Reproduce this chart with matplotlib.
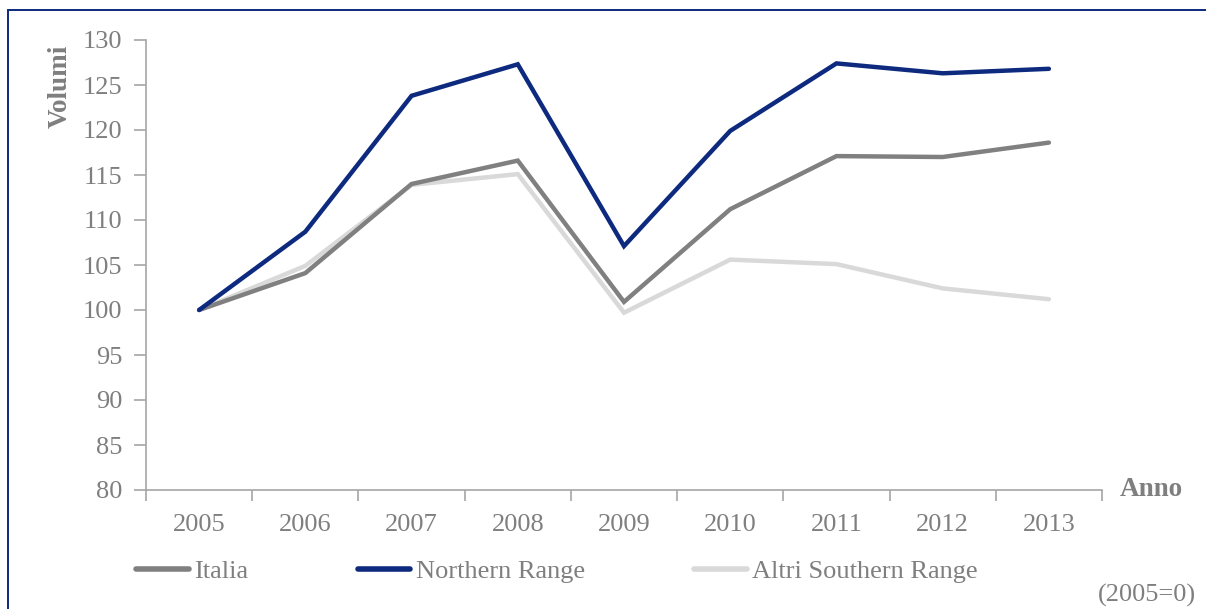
import matplotlib
matplotlib.use("Agg")
import matplotlib.pyplot as plt
from matplotlib.patches import Rectangle
from matplotlib.lines import Line2D

years = ["2005", "2006", "2007", "2008", "2009", "2010", "2011", "2012", "2013"]
italia = [100, 104.1, 114.0, 116.6, 100.9, 111.2, 117.1, 117.0, 118.6]
northern = [100, 108.7, 123.8, 127.3, 107.1, 119.9, 127.4, 126.3, 126.8]
altri = [100, 104.9, 113.9, 115.1, 99.7, 105.6, 105.1, 102.4, 101.2]
series_names = ["Italia", "Northern Range", "Altri Southern Range"]
yticks = [80, 85, 90, 95, 100, 105, 110, 115, 120, 125, 130]

W, H = 1206, 609
plt.rcParams['font.family'] = ['Liberation Serif', 'DejaVu Serif']
txt = '#7f7f7f'
axc = '#a6a6a6'
fs = 19

fig = plt.figure(figsize=(W / 100, H / 100), dpi=100)
ax = fig.add_axes([146 / W, 1 - 490 / H, (1102 - 146) / W, (490 - 40) / H])

colors = ['#808080', '#0d2a7f', '#d9d9d9']
zorders = [3, 4, 2]
xs = list(range(len(years)))
for vals, c, name, z in zip([italia, northern, altri], colors, series_names, zorders):
    ax.plot(xs, vals, color=c, lw=3.2, solid_capstyle='round',
            solid_joinstyle='miter', label=name, zorder=z)

ax.set_xlim(-0.5, len(years) - 0.5)
ax.set_ylim(80, 130)
ax.set_yticks(yticks)
ax.set_yticklabels([str(v) for v in yticks])
ax.set_xticks([i - 0.5 for i in range(len(years) + 1)])
ax.set_xticklabels([])
ax.set_xticks(xs, minor=True)
ax.set_xticklabels(years, minor=True)
ax.tick_params(axis='x', which='major', length=8, color=axc, width=1.2, direction='out')
ax.tick_params(axis='x', which='minor', length=0, pad=17, labelsize=fs, labelcolor=txt)
ax.tick_params(axis='y', length=9, color=axc, width=1.2, direction='out', pad=8,
               labelsize=fs, labelcolor=txt)
for s in ['top', 'right']:
    ax.spines[s].set_visible(False)
for s in ['left', 'bottom']:
    ax.spines[s].set_color(axc)
    ax.spines[s].set_linewidth(1.2)

fig.text(60 / W, 1 - 86 / H, 'Volumi', rotation=90, ha='center', va='center',
         fontsize=fs + 0.5, fontweight='bold', color=txt)
fig.text(1151 / W, 1 - 490 / H, 'Anno', ha='center', va='center',
         fontsize=fs + 0.5, fontweight='bold', color=txt)
fig.text(1196 / W, 1 - 595 / H, '(2005=0)', ha='right', va='center',
         fontsize=fs, color=txt)

handles = [Line2D([0], [0], color=c, lw=4, solid_capstyle='round') for c in colors]
leg = fig.legend(handles, series_names, loc='center left', ncol=3,
                 bbox_to_anchor=(136 / W, 1 - 571 / H), frameon=False,
                 borderpad=0, borderaxespad=0, handlelength=2.0, handletextpad=0.2,
                 columnspacing=4.15, fontsize=fs)
for t in leg.get_texts():
    t.set_color(txt)

border = Rectangle((8 / W, -0.05), 1.0, 1 - 10 / H + 0.05,
                   transform=fig.transFigure, fill=False, edgecolor='#0d2a7f',
                   linewidth=1.4, clip_on=False)
fig.patches.append(border)

fig.savefig('out.png', dpi=100)
